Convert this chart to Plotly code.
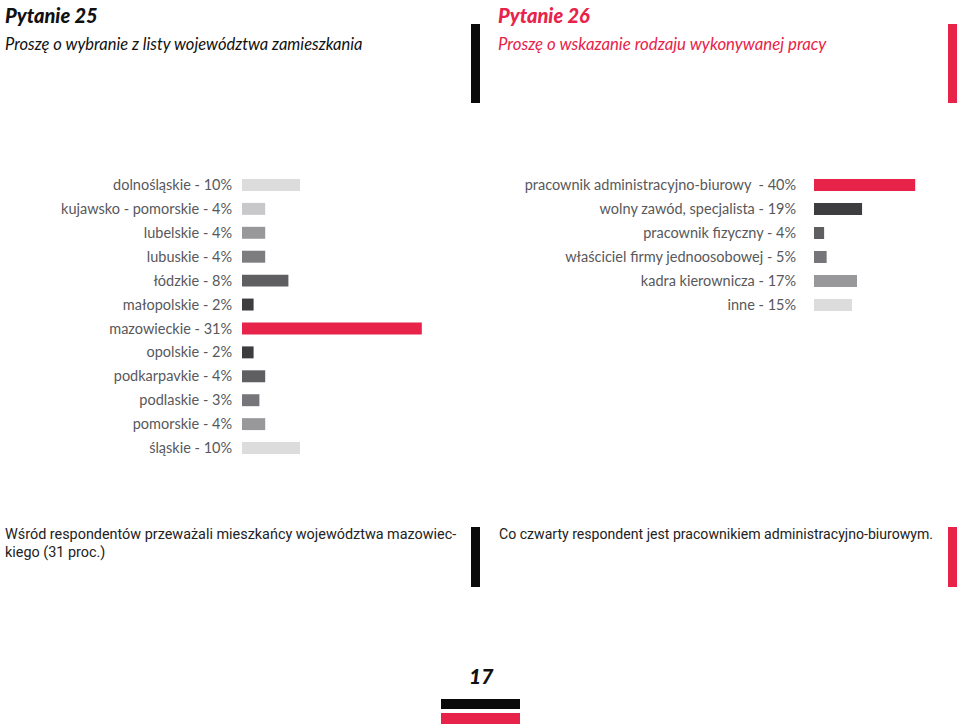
import plotly.graph_objects as go

W, H = 960, 724

# Pytanie 25 data
regions = ["dolnośląskie", "kujawsko - pomorskie", "lubelskie", "lubuskie", "łódzkie",
           "małopolskie", "mazowieckie", "opolskie", "podkarpavkie", "podlaskie",
           "pomorskie", "śląskie"]
region_pct = [10, 4, 4, 4, 8, 2, 31, 2, 4, 3, 4, 10]
region_colors = ["#dcdcdd", "#c8c8ca", "#98989b", "#7d7d80", "#5f5f62", "#3d3d40",
                 "#e8234a", "#3d3d40", "#5f5f62", "#76767a", "#98989b", "#dcdcdd"]

# Pytanie 26 data
jobs = ["pracownik administracyjno-biurowy ", "wolny zawód, specjalista", "pracownik fizyczny",
        "właściciel firmy jednoosobowej", "kadra kierownicza", "inne"]
job_pct = [40, 19, 4, 5, 17, 15]
job_colors = ["#e8234a", "#3d3d40", "#5f5f62", "#76767a", "#98989b", "#dcdcdd"]

RED = "#e8234a"
LABEL_GRAY = "#58585b"


def px(x):
    return x / W


def py(y):
    return 1 - y / H


fig = go.Figure()

fig.add_trace(go.Bar(
    x=region_pct, y=[f"{r} - {p}%" for r, p in zip(regions, region_pct)],
    orientation="h", marker=dict(color=region_colors, line=dict(width=0)),
    width=0.5, xaxis="x", yaxis="y", hoverinfo="skip", showlegend=False))

fig.add_trace(go.Bar(
    x=job_pct, y=[f"{j} - {p}%" for j, p in zip(jobs, job_pct)],
    orientation="h", marker=dict(color=job_colors, line=dict(width=0)),
    width=0.5, xaxis="x2", yaxis="y2", hoverinfo="skip", showlegend=False))

lab_font = dict(family="Lato", size=14.5, color=LABEL_GRAY)

fig.update_layout(
    width=W, height=H,
    margin=dict(l=0, r=0, t=0, b=0),
    paper_bgcolor="white", plot_bgcolor="white",
    bargap=0.5,
    xaxis=dict(domain=[px(242), px(460)], range=[0, 218 / 5.8], visible=False, fixedrange=True),
    yaxis=dict(domain=[py(460), py(173)], anchor="x", autorange="reversed", type="category",
               showline=False, showgrid=False, zeroline=False, ticks="outside", ticklen=6,
               tickcolor="rgba(0,0,0,0)", tickfont=lab_font),
    xaxis2=dict(domain=[px(814), px(940)], range=[0, 126 / 2.53], visible=False, fixedrange=True),
    yaxis2=dict(domain=[py(317), py(173)], anchor="x2", autorange="reversed", type="category",
                showline=False, showgrid=False, zeroline=False, ticks="outside", ticklen=14,
                tickcolor="rgba(0,0,0,0)", tickfont=lab_font),
)

ann = []


def text(x, y, s, size, color, family="Lato", weight="normal", style="normal", anchor="left"):
    ann.append(dict(x=px(x), y=py(y), xref="paper", yref="paper", text=s, showarrow=False,
                    xanchor=anchor, yanchor="middle",
                    font=dict(family=family, size=size, color=color, weight=weight, style=style)))


text(3, 15, "Pytanie 25", 20, "#111111", weight=900, style="italic")
text(3, 44, "Proszę o wybranie z listy województwa zamieszkania", 16.5, "#111111", style="italic")
text(496, 15, "Pytanie 26", 20, RED, weight=900, style="italic")
text(496, 44, "Proszę o wskazanie rodzaju wykonywanej pracy", 16.8, RED, style="italic")

text(3, 534, "Wśród respondentów przeważali mieszkańcy województwa mazowiec-", 14.4, "#222222", family="Roboto")
text(3, 552, "kiego (31 proc.)", 14.4, "#222222", family="Roboto")
text(497, 534, "Co czwarty respondent jest pracownikiem administracyjno-biurowym.", 14.1, "#222222", family="Roboto")

text(481, 675, "17", 21, "#111111", weight=900, style="italic", anchor="center")

fig.update_layout(annotations=ann)

shapes = []


def rect(x0, y0, x1, y1, color):
    shapes.append(dict(type="rect", xref="paper", yref="paper", x0=px(x0), x1=px(x1),
                       y0=py(y1), y1=py(y0), fillcolor=color, line=dict(width=0), layer="above"))


rect(471, 24, 480, 103, "#0a0a0a")
rect(948, 24, 957, 103, RED)
rect(471, 527, 480, 587, "#0a0a0a")
rect(948, 527, 957, 587, RED)
rect(441, 699, 520, 709, "#0a0a0a")
rect(441, 713, 520, 724, RED)

fig.update_layout(shapes=shapes)

fig.write_html("out.html")
